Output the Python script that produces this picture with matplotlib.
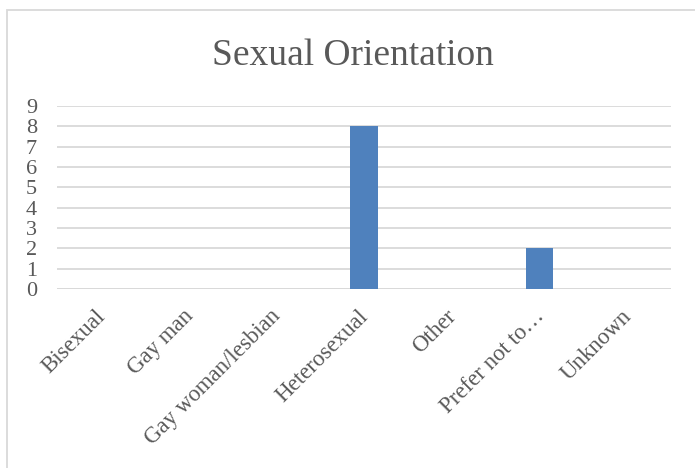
import matplotlib
matplotlib.use("Agg")
import matplotlib.pyplot as plt
from matplotlib.patches import Rectangle
from matplotlib.transforms import ScaledTranslation

# data
categories = ["Bisexual", "Gay man", "Gay woman/lesbian", "Heterosexual",
              "Other", "Prefer not to…", "Unknown"]
counts = [0, 0, 0, 8, 0, 2, 0]
y_ticks = list(range(0, 10))

plt.rcParams['font.family'] = ['Liberation Serif', 'DejaVu Serif']
text_col = "#595959"
grid_col = "#D9D9D9"
bar_col = "#4F81BD"

fig = plt.figure(figsize=(6.95, 4.68), dpi=100)
ax = fig.add_axes([57 / 695, 1 - 289 / 468, 614 / 695, 183 / 468])

x = list(range(len(categories)))
ax.bar(x, counts, width=0.31, color=bar_col, zorder=3)

ax.set_xlim(-0.5, len(categories) - 0.5)
ax.set_ylim(0, 9)
ax.set_yticks(y_ticks)
ax.set_yticklabels([str(t) for t in y_ticks], fontsize=16, color=text_col)
ax.yaxis.grid(True, color=grid_col, linewidth=1.3, zorder=0)
ax.tick_params(axis='y', length=0, pad=14.4)
ax.tick_params(axis='x', length=0, pad=12)

ax.set_xticks(x)
ax.set_xticklabels(categories, fontsize=16.5, color=text_col, rotation=45,
                   ha='right', va='top', rotation_mode='anchor')
# nudge rotated labels so their ends sit under the category centre
shift = ScaledTranslation(-6 / 100, 0, fig.dpi_scale_trans)
for lab in ax.get_xticklabels():
    lab.set_transform(lab.get_transform() + shift)

for s in ax.spines.values():
    s.set_visible(False)
ax.axhline(0, color=grid_col, linewidth=1.3, zorder=2)

fig.text(353 / 695, 1 - 65 / 468, "Sexual Orientation", fontsize=27,
         color=text_col, ha='center', va='baseline')

# chart frame
fig.patches.append(Rectangle((6.5 / 695, -0.1), 1.2, 1.1 - 10.5 / 468,
                             transform=fig.transFigure, fill=False,
                             edgecolor=grid_col, linewidth=1.3))

fig.savefig("out.png", dpi=100)
